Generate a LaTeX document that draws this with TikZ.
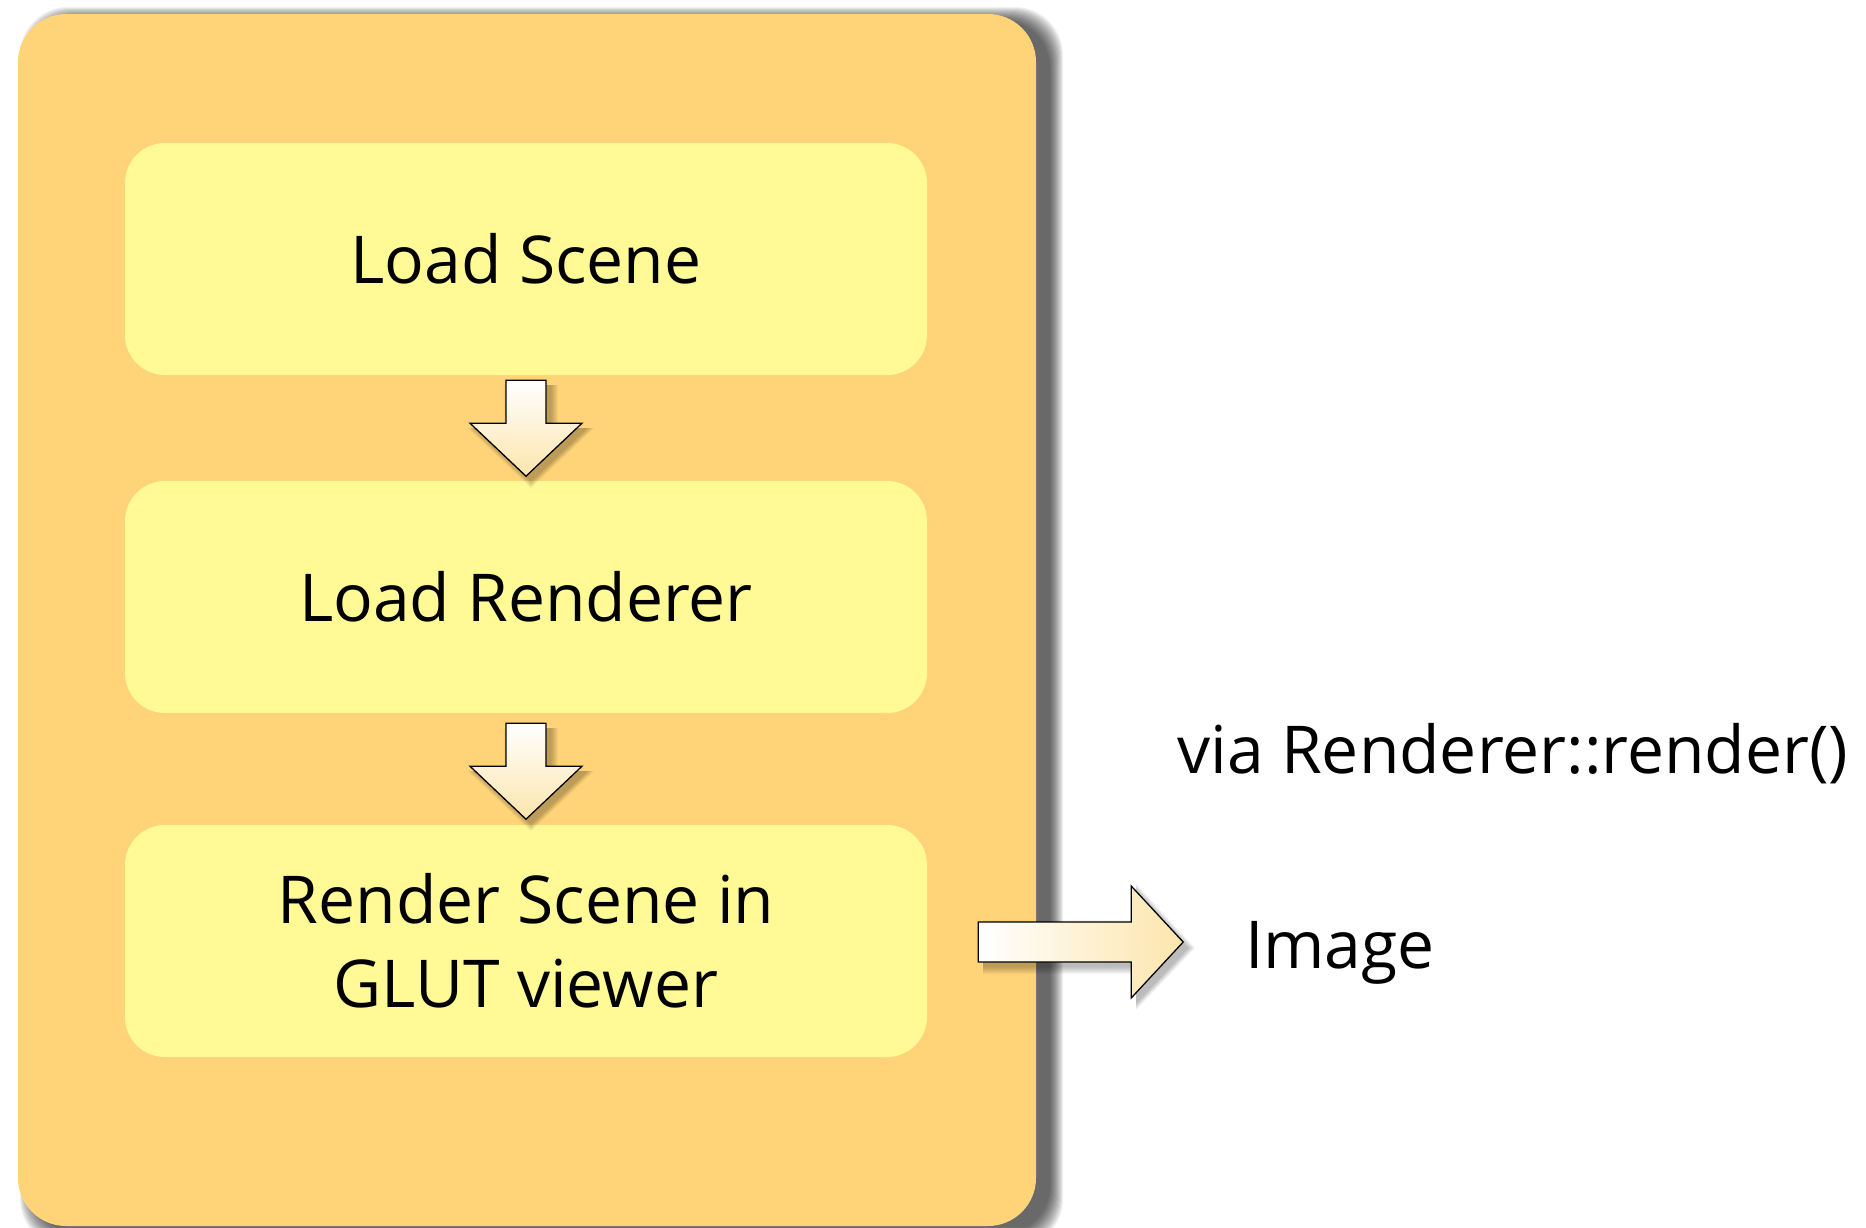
\documentclass[tikz,border=0pt]{standalone}
\usepackage{fontspec}
\setmainfont{Open Sans}
\usetikzlibrary{calc}
\definecolor{panelfill}{RGB}{255,212,121}
\definecolor{boxfill}{RGB}{255,249,150}
\definecolor{arrowpeach}{RGB}{253,229,172}
\tikzset{
  panelbox/.style={fill=panelfill, rounded corners=48pt, inner sep=0pt},
  stepbox/.style={fill=boxfill, rounded corners=40pt, minimum width=802pt, minimum height=232pt, inner sep=0pt, align=center,
     font=\fontsize{66}{84}\selectfont},
  label text/.style={font=\fontsize{66}{84}\selectfont, inner sep=0pt, anchor=base},
  downarrow/.style={draw=black, line width=1.3pt, top color=white, bottom color=arrowpeach, line join=miter},
  rightarrow/.style={draw=black, line width=1.3pt, left color=white, right color=arrowpeach, line join=miter},
}
\newcommand\softshadow[5]{% #1 nw, #2 se, #3 radius, #4 layers, #5 opacity
  \foreach \k in {1,...,#4}{
    \fill[black, opacity=#5, rounded corners=#3]
      ($(#1)+(-#4+\k,-#4+\k)$) rectangle ($(#2)+(#4-\k,#4-\k)$);
  }}
\begin{document}
\begin{tikzpicture}[x=1pt, y=-1pt]
\useasboundingbox (0,0) rectangle (1866,1227);
\fill[white] (0,0) rectangle (1866,1227);

% panel
\coordinate (pnw) at (33,20);
\coordinate (pse) at (1050,1234);
\softshadow{pnw}{pse}{48pt}{14}{0.06}
\node[panelbox, minimum width=1018pt, minimum height=1212pt] (panel) at (527,620) {};

% steps
\node[stepbox] (s1) at (526,259) {Load Scene};
\node[stepbox] (s2) at (526,597) {Load Renderer};
\node[stepbox] (s3) at (526,941) {Render Scene in\\GLUT viewer};

% down arrows
\foreach \a/\b/\o in {s1/s2/5, s2/s3/10}{
  \begin{scope}[shift={(\a.south)}]
    \begin{scope}[shift={(5,5)}]
      \foreach \k in {1,...,8}{
        \fill[black, opacity=0.035] (-20-8+\k,\o) -- (20+8-\k,\o) -- (20+8-\k,\o+43) -- (56+8-\k,\o+43) -- (0,\o+96+8-\k) -- (-56-8+\k,\o+43) -- (-20-8+\k,\o+43) -- cycle;
      }
    \end{scope}
    \path[downarrow] (-20,\o) -- (20,\o) -- (20,\o+43) -- (56,\o+43) -- (0,\o+96) -- (-56,\o+43) -- (-20,\o+43) -- cycle;
  \end{scope}
}

% right arrow
\begin{scope}[shift={(s3.east)}]
  \begin{scope}[shift={(5,6)}]
    \foreach \k in {1,...,8}{
      \fill[black, opacity=0.035] (51,-20-8+\k) -- (204,-20-8+\k) -- (204,-56-8+\k) -- (256+8-\k,1) -- (204,56+8-\k) -- (204,20+8-\k) -- (51,20+8-\k) -- cycle;
    }
  \end{scope}
  \path[rightarrow] (51,-19) -- (204,-19) -- (204,-55) -- (256,1) -- (204,57) -- (204,21) -- (51,21) -- cycle;
  \coordinate (tip) at (256,1);
\end{scope}

\node[label text] (img) at (1340,968) {Image};
\node[label text] (via) at (1513,773) {via Renderer::render()};
\end{tikzpicture}
\end{document}
